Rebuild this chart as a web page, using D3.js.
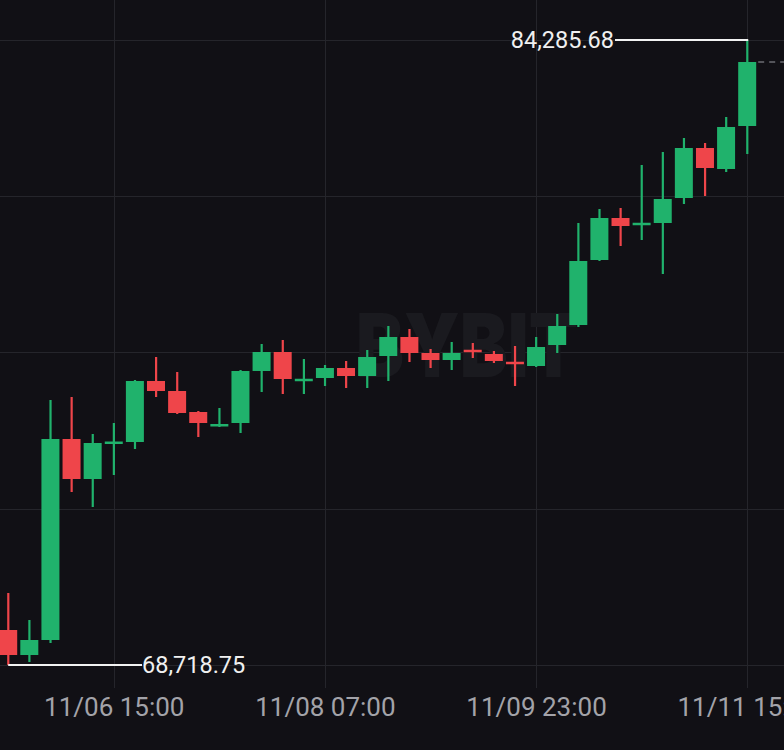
<!DOCTYPE html>
<html><head><meta charset="utf-8">
<script src="https://cdn.jsdelivr.net/npm/d3@7"></script>
<style>
html,body{margin:0;padding:0;background:#111015;overflow:hidden;}
svg{display:block;}
</style></head>
<body>
<svg id="c" width="784" height="750"></svg>
<script>
const times = ["2024-11-05T19:00","2024-11-05T23:00","2024-11-06T03:00","2024-11-06T07:00","2024-11-06T11:00","2024-11-06T15:00","2024-11-06T19:00","2024-11-06T23:00","2024-11-07T03:00","2024-11-07T07:00","2024-11-07T11:00","2024-11-07T15:00","2024-11-07T19:00","2024-11-07T23:00","2024-11-08T03:00","2024-11-08T07:00","2024-11-08T11:00","2024-11-08T15:00","2024-11-08T19:00","2024-11-08T23:00","2024-11-09T03:00","2024-11-09T07:00","2024-11-09T11:00","2024-11-09T15:00","2024-11-09T19:00","2024-11-09T23:00","2024-11-10T03:00","2024-11-10T07:00","2024-11-10T11:00","2024-11-10T15:00","2024-11-10T19:00","2024-11-10T23:00","2024-11-11T03:00","2024-11-11T07:00","2024-11-11T11:00","2024-11-11T15:00"];
const open  = [69590.6,68967.9,69341.5,74347.8,73351.5,74248.2,74273.1,75792.4,75543.3,75020.3,74671.6,74746.3,76041.5,76514.7,75804.9,75867.1,76116.2,75916.9,76415.1,76888.3,76489.8,76315.5,76552.1,76464.9,76253.2,76166.0,76689.1,77187.2,78806.2,79852.3,79690.4,79727.7,80350.4,81595.7,81072.7,82143.7];
const high  = [70512.1,69839.6,75319.2,75393.9,74472.3,74746.3,75817.3,76390.2,76016.6,75045.2,75119.9,76066.4,76714.0,76813.6,76340.4,76190.9,76290.5,76564.5,77162.3,77087.6,76589.4,76763.8,76738.9,76539.6,76664.2,76888.3,77461.2,79727.7,80076.4,80101.3,81172.3,81496.1,81844.8,81720.3,82367.9,84285.68];
const low   = [68718.75,68793.5,69266.8,73027.7,72654.1,73451.2,74098.7,75393.9,74970.5,74397.6,74646.7,74497.2,75518.4,75468.6,75468.6,75667.9,75618.1,75618.1,75792.4,76265.6,76116.2,76066.4,76365.3,76240.7,75667.9,76141.1,76489.8,77137.4,78781.3,79154.9,79304.3,78457.5,80201.0,80400.2,80998.0,81446.3];
const close = [68967.9,69341.5,74347.8,73351.5,74248.2,74260.0,75792.4,75543.3,74995.4,74746.3,74708.9,76041.5,76514.7,75842.2,75829.8,76116.2,75916.9,76390.2,76888.3,76489.8,76315.5,76489.8,76527.2,76290.5,76228.3,76639.3,77162.3,78781.3,79852.3,79653.0,79715.3,80325.5,81595.7,81097.6,82118.8,83737.7];
const yGridValues = [68718.75,72610.48,76502.22,80393.95,84285.68];
const xTickTimes = ["2024-11-06T15:00","2024-11-08T07:00","2024-11-09T23:00","2024-11-11T15:00"];
const maxLabel = "84,285.68";
const minLabel = "68,718.75";
const watermark = "BYBIT";

const parse = d3.timeParse("%Y-%m-%dT%H:%M");
const data = times.map((t,i)=>({t:parse(t),o:open[i],h:high[i],l:low[i],c:close[i]}));
const svg = d3.select("#c");
const W=784,H=750;
svg.append("rect").attr("width",W).attr("height",H).attr("fill","#111015");

const x = d3.scaleTime().domain([data[0].t,data[data.length-1].t]).range([8.2,747.2]);
const y = d3.scaleLinear().domain([68718.75,84285.68]).range([665,40]);

const grid = svg.append("g").attr("stroke","#25252b").attr("stroke-width",1);
grid.selectAll("line.h").data(yGridValues).join("line").attr("class","h")
  .attr("x1",0).attr("x2",W).attr("y1",d=>Math.round(y(d))+0.5).attr("y2",d=>Math.round(y(d))+0.5);
const xt = xTickTimes.map(parse);
grid.selectAll("line.v").data(xt).join("line").attr("class","v")
  .attr("y1",0).attr("y2",688).attr("x1",d=>Math.round(x(d))+0.5).attr("x2",d=>Math.round(x(d))+0.5);

// watermark
svg.append("text").text(watermark).attr("x",467).attr("y",377).attr("text-anchor","middle")
  .attr("font-family","Inter, Roboto, sans-serif").attr("font-weight",900).attr("font-size",88)
  .attr("textLength",222).attr("lengthAdjust","spacingAndGlyphs")
  .attr("fill","#1a1a1f");

// x axis labels
const fmt = d3.timeFormat("%m/%d %H:%M");
const xAxis = d3.axisBottom(x).tickValues(xt).tickFormat(fmt).tickSize(0).tickPadding(0);
const ax = svg.append("g").attr("transform","translate(0,716)").call(xAxis);
ax.select(".domain").remove();
ax.selectAll("text").attr("fill","#a3a3a9").attr("font-family","Roboto, sans-serif").attr("font-size",26).attr("dy",0);

// candles
const green="#20b26c", red="#ef454a";
const bw=18;
const cg = svg.append("g");
const cs = cg.selectAll("g").data(data).join("g");
cs.append("rect").attr("x",d=>x(d.t)-1).attr("width",2.2)
  .attr("y",d=>y(d.h)).attr("height",d=>y(d.l)-y(d.h))
  .attr("fill",d=>d.c>=d.o?green:red);
cs.append("rect").attr("x",d=>x(d.t)-bw/2).attr("width",bw)
  .attr("y",d=>{const t=y(Math.max(d.o,d.c)),b=y(Math.min(d.o,d.c));return (b-t)<2.5?(t+b)/2-1.25:t;})
  .attr("height",d=>Math.max(2.5,y(Math.min(d.o,d.c))-y(Math.max(d.o,d.c))))
  .attr("fill",d=>d.c>=d.o?green:red);

// last price dashed line
const last = data[data.length-1];
svg.append("line").attr("x1",x(last.t)+bw/2+2).attr("x2",W).attr("y1",y(last.c)).attr("y2",y(last.c))
  .attr("stroke","#6b6b72").attr("stroke-width",1.3).attr("stroke-dasharray","6,5");

// max / min markers
let iMax=d3.maxIndex(data,d=>d.h), iMin=d3.minIndex(data,d=>d.l);
const dMax=data[iMax], dMin=data[iMin];
svg.append("line").attr("x1",615).attr("x2",x(dMax.t)+1).attr("y1",y(dMax.h)).attr("y2",y(dMax.h))
  .attr("stroke","#f2f2f2").attr("stroke-width",2);
svg.append("text").text(maxLabel).attr("x",614).attr("y",y(dMax.h)).attr("dy","0.35em").attr("text-anchor","end")
  .attr("fill","#f0f0f0").attr("font-family","Roboto, sans-serif").attr("font-size",23.5);
svg.append("line").attr("x1",x(dMin.t)).attr("x2",142).attr("y1",y(dMin.l)).attr("y2",y(dMin.l))
  .attr("stroke","#f2f2f2").attr("stroke-width",2);
svg.append("text").text(minLabel).attr("x",142).attr("y",y(dMin.l)).attr("dy","0.35em").attr("text-anchor","start")
  .attr("fill","#f0f0f0").attr("font-family","Roboto, sans-serif").attr("font-size",23.5);
</script>
</body></html>
